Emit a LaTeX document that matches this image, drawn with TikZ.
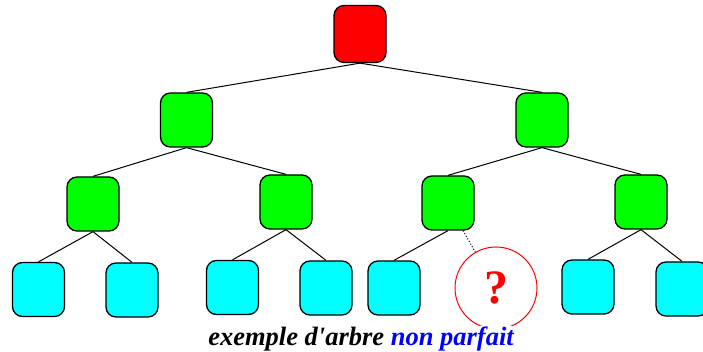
\documentclass[tikz,border=0pt]{standalone}
\usepackage{fontspec}
\newfontfamily\capfont{Liberation Serif}
\definecolor{boxred}{RGB}{255,0,0}
\definecolor{boxgreen}{RGB}{0,255,0}
\definecolor{boxcyan}{RGB}{0,255,255}
\definecolor{capblue}{RGB}{0,0,255}
\begin{document}
\begin{tikzpicture}[x=1pt,y=-1pt,
  nd/.style={draw=black, line width=1.3pt, rounded corners=10pt, minimum width=52pt, minimum height=54pt, inner sep=0pt},
  rootnd/.style={nd, fill=boxred, minimum height=57pt},
  inner/.style={nd, fill=boxgreen},
  leaf/.style={nd, fill=boxcyan},
  edge/.style={line width=1pt, black},
  dotline/.style={line width=1pt, dotted, black}]
\useasboundingbox[fill=white] (0,0) rectangle (703,352);
\node[rootnd] (r) at (360,34) {};
\node[inner] (a) at (186.5,120) {};
\node[inner] (b) at (542,120) {};
\node[inner] (c) at (93,204) {};
\node[inner] (d) at (286,202) {};
\node[inner] (e) at (448,203) {};
\node[inner] (f) at (641,202) {};
\node[leaf] (g1) at (38.5,289.5) {};
\node[leaf] (g2) at (132,290) {};
\node[leaf] (g3) at (232.5,287.5) {};
\node[leaf] (g4) at (326,288) {};
\node[leaf] (g5) at (394,288) {};
\node[draw=boxred, line width=1pt, circle, minimum size=82pt, inner sep=0pt, text=boxred,
  font=\capfont\bfseries\fontsize{48}{48}\selectfont] (q) at (496,288) {?};
\node[leaf] (g7) at (588,287) {};
\node[leaf] (g8) at (682,289) {};
\draw[edge] (r.south) -- (a.north);
\draw[edge] (r.south) -- (b.north);
\draw[edge] (a.south) -- (c.north);
\draw[edge] (a.south) -- (d.north);
\draw[edge] (b.south) -- (e.north);
\draw[edge] (b.south) -- (f.north);
\draw[edge] (c.south) -- (g1.north);
\draw[edge] (c.south) -- (g2.north);
\draw[edge] (d.south) -- (g3.north);
\draw[edge] (d.south) -- (g4.north);
\draw[edge] (e.south) -- (g5.north);
\coordinate (es) at ([xshift=15pt]e.south);
\draw[dotline] (es) -- (q.120);
\draw[edge] (f.south) -- (g7.north);
\draw[edge] (f.south) -- (g8.north);
\node[anchor=base, fill=white, inner sep=0pt, font=\capfont\bfseries\itshape\fontsize{26.5}{26.5}\selectfont] (cap) at (361,345)
  {exemple d\char"27 arbre \textcolor{capblue}{non parfait}};
\end{tikzpicture}
\end{document}
